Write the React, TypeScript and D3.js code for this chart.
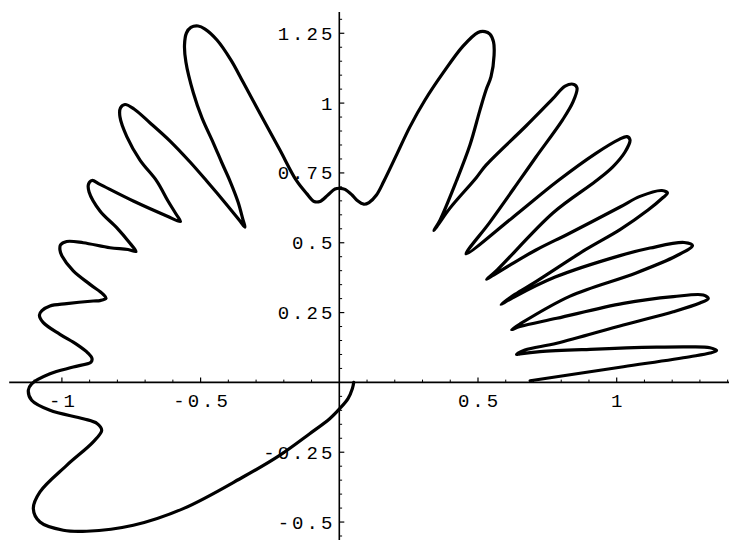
import React from "react";
import * as d3 from "d3";

type Pt = [number, number];

// Petals on the right side, from the start near the x-axis up to the tall right petal
const rightPetals: Pt[] = [
  [0.688, 0.006], [1.024, 0.056], [1.264, 0.092], [1.336, 0.105], [1.36, 0.114],
  [1.336, 0.124], [1.264, 0.127], [1.144, 0.126], [0.904, 0.1185], [0.7235, 0.11], [0.651, 0.102], [0.639, 0.1],
  [0.669, 0.116], [0.784, 0.14], [1.024, 0.2055], [1.204, 0.253], [1.3, 0.284], [1.33, 0.3],
  [1.312, 0.313], [1.204, 0.307], [1.024, 0.283], [0.784, 0.2295], [0.651, 0.2], [0.621, 0.189],
  [0.651, 0.209], [0.832, 0.309], [1.07, 0.392], [1.214, 0.4525], [1.273, 0.49],
  [1.243, 0.501], [1.12, 0.481], [1.012, 0.454], [0.778, 0.377], [0.623, 0.302], [0.583, 0.279],
  [0.633, 0.315], [0.709, 0.361], [0.889, 0.476], [1.012, 0.547], [1.113, 0.617], [1.167, 0.662], [1.183, 0.678],
  [1.163, 0.687], [1.084, 0.666], [1.012, 0.628], [0.832, 0.535], [0.709, 0.474], [0.615, 0.42], [0.5505, 0.381], [0.531, 0.369],
  [0.5685, 0.402], [0.77, 0.6065], [0.925, 0.721], [0.986, 0.772], [1.03, 0.825], [1.048, 0.868],
  [1.037, 0.88], [1.009, 0.87], [0.925, 0.82], [0.787, 0.721], [0.623, 0.589], [0.457, 0.46],
  [0.543, 0.574], [0.651, 0.725], [0.709, 0.807], [0.805, 0.94], [0.8425, 1.004], [0.857, 1.054],
  [0.846, 1.067], [0.814, 1.061], [0.769, 1.015], [0.673, 0.918], [0.529, 0.778], [0.493, 0.732], [0.399, 0.624], [0.356, 0.564], [0.341, 0.544],
  [0.363, 0.581], [0.422, 0.721], [0.471, 0.85], [0.507, 0.975], [0.529, 1.047], [0.547, 1.0945], [0.558, 1.172], [0.556, 1.219], [0.543, 1.247], [0.525, 1.256],
];

// The two tall central petals and the small bump on the y-axis
const crown: Pt[] = [
  [0.5, 1.253], [0.446, 1.204], [0.374, 1.108], [0.309, 1.011], [0.254, 0.914], [0.208, 0.818], [0.161, 0.721],
  [0.134, 0.671], [0.107, 0.644], [0.088, 0.638], [0.066, 0.65], [0.046, 0.671], [0.0205, 0.691], [0.004, 0.695],
  [-0.0155, 0.6925], [-0.041, 0.671], [-0.0696, 0.648], [-0.091, 0.648], [-0.1175, 0.676], [-0.156, 0.725],
  [-0.214, 0.832], [-0.279, 0.95], [-0.347, 1.0755], [-0.3904, 1.154], [-0.441, 1.226], [-0.484, 1.265],
  [-0.509, 1.276], [-0.535, 1.271],
];

// Petals on the left side, shrinking toward the negative x-axis
const leftPetals: Pt[] = [
  [-0.551, 1.251], [-0.558, 1.208], [-0.553, 1.147], [-0.526, 1.036], [-0.495, 0.947], [-0.454, 0.857],
  [-0.423, 0.7855], [-0.394, 0.721], [-0.365, 0.646], [-0.347, 0.5815], [-0.34, 0.556],
  [-0.358, 0.578], [-0.408, 0.639], [-0.478, 0.721], [-0.538, 0.789], [-0.61, 0.864], [-0.682, 0.929],
  [-0.74, 0.979], [-0.7725, 0.995], [-0.789, 0.9825], [-0.7906, 0.95], [-0.766, 0.88], [-0.7185, 0.796],
  [-0.658, 0.721], [-0.6175, 0.6495], [-0.5887, 0.603], [-0.5725, 0.576],
  [-0.622, 0.596], [-0.7426, 0.6495], [-0.8627, 0.709], [-0.8915, 0.723], [-0.904, 0.71], [-0.902, 0.682],
  [-0.8627, 0.614], [-0.8025, 0.554], [-0.7545, 0.498], [-0.733, 0.4687],
  [-0.7617, 0.476], [-0.8266, 0.482], [-0.923, 0.5], [-0.9827, 0.5045], [-1.005, 0.492], [-1.007, 0.474],
  [-0.9997, 0.4526], [-0.959, 0.399], [-0.8987, 0.351], [-0.851, 0.3154], [-0.841, 0.301],
  [-0.8627, 0.293], [-0.887, 0.2914], [-0.9827, 0.282], [-1.043, 0.2735], [-1.072, 0.257], [-1.081, 0.241],
  [-1.067, 0.214], [-1.007, 0.172], [-0.9467, 0.136], [-0.906, 0.105], [-0.8915, 0.0856], [-0.895, 0.073],
];

// Lower loop that swings below the x-axis and returns to the origin
const lowerLoop: Pt[] = [
  [-0.959, 0.055], [-1.043, 0.031], [-1.109, -0.005], [-1.121, -0.028], [-1.109, -0.064], [-1.043, -0.1],
  [-0.923, -0.13], [-0.8735, -0.147], [-0.8565, -0.1715], [-0.887, -0.213], [-0.9827, -0.297], [-1.079, -0.392],
  [-1.103, -0.452], [-1.079, -0.5], [-0.995, -0.5295], [-0.9106, -0.533], [-0.7426, -0.5116], [-0.5624, -0.452],
  [-0.347, -0.3387], [-0.215, -0.261], [-0.1067, -0.1837], [-0.0346, -0.13], [0.0014, -0.094], [0.0314, -0.058],
  [0.0469, -0.0226], [0.052, 0],
];

const xExtent: [number, number] = [-1.19, 1.405];
const yExtent: [number, number] = [-0.564, 1.326];
const xMajorTicks = [-1, -0.5, 0.5, 1];
const xTickLabels = ["-1", "-0.5", "0.5", "1"];
const yMajorTicks = [-0.5, -0.25, 0.25, 0.5, 0.75, 1, 1.25];
const yTickLabels = ["-0.5", "-0.25", "0.25", "0.5", "0.75", "1", "1.25"];

export default function App() {
  const W = 729;
  const H = 542;
  const x = d3.scaleLinear().domain([0, 1]).range([339.3, 616.7]);
  const y = d3.scaleLinear().domain([0, 1]).range([382.4, 103.1]);

  const xMinor = d3.range(-11, 15).map((i) => i / 10).filter((v) => Math.abs((v * 2) % 1) > 1e-6 && Math.abs(v) > 1e-6);
  const yMinor = d3.range(-11, 27).map((i) => i / 20).filter((v) => Math.abs((v * 4) % 1) > 1e-6 && Math.abs(v) > 1e-6);

  const curve = [...rightPetals, ...crown, ...leftPetals, ...lowerLoop];
  const line = d3
    .line<Pt>()
    .x((d) => x(d[0]))
    .y((d) => y(d[1]))
    .curve(d3.curveCatmullRom.alpha(0.5));

  const ls = 3;
  const font = "'Liberation Mono', 'Courier New', monospace";
  const x0 = x(0);
  const y0 = y(0);

  return (
    <svg
      width={W}
      height={H}
      viewBox={`0 0 ${W} ${H}`}
      style={{ position: "absolute", left: 0, top: 0, background: "#fff" }}
    >
      <rect width={W} height={H} fill="#fff" />
      {/* axes */}
      <line x1={x(xExtent[0])} x2={x(xExtent[1])} y1={y0} y2={y0} stroke="#000" strokeWidth={1.6} />
      <line x1={x0} x2={x0} y1={y(yExtent[0])} y2={y(yExtent[1])} stroke="#000" strokeWidth={1.6} />
      {xMajorTicks.map((v) => (
        <line key={"xM" + v} x1={x(v)} x2={x(v)} y1={y0} y2={y0 - 5} stroke="#000" strokeWidth={1.2} />
      ))}
      {xMinor.map((v) => (
        <line key={"xm" + v} x1={x(v)} x2={x(v)} y1={y0} y2={y0 - 2.8} stroke="#000" strokeWidth={1} />
      ))}
      {yMajorTicks.map((v) => (
        <line key={"yM" + v} x1={x0} x2={x0 + 5} y1={y(v)} y2={y(v)} stroke="#000" strokeWidth={1.2} />
      ))}
      {yMinor.map((v) => (
        <line key={"ym" + v} x1={x0} x2={x0 + 2.8} y1={y(v)} y2={y(v)} stroke="#000" strokeWidth={1} />
      ))}
      {xMajorTicks.map((v, i) => (
        <text
          key={"xl" + v}
          x={x(v) + ls / 2}
          y={y0 + 25}
          textAnchor="middle"
          fontFamily={font}
          fontSize={19}
          letterSpacing={ls}
          fill="#000"
        >
          {xTickLabels[i]}
        </text>
      ))}
      {yMajorTicks.map((v, i) => (
        <text
          key={"yl" + v}
          x={x0 - 7 + ls}
          y={y(v) + 6.5}
          textAnchor="end"
          fontFamily={font}
          fontSize={19}
          letterSpacing={ls}
          fill="#000"
        >
          {yTickLabels[i]}
        </text>
      ))}
      <path d={line(curve) ?? ""} fill="none" stroke="#000" strokeWidth={3.2} strokeLinejoin="round" strokeLinecap="round" />
    </svg>
  );
}
